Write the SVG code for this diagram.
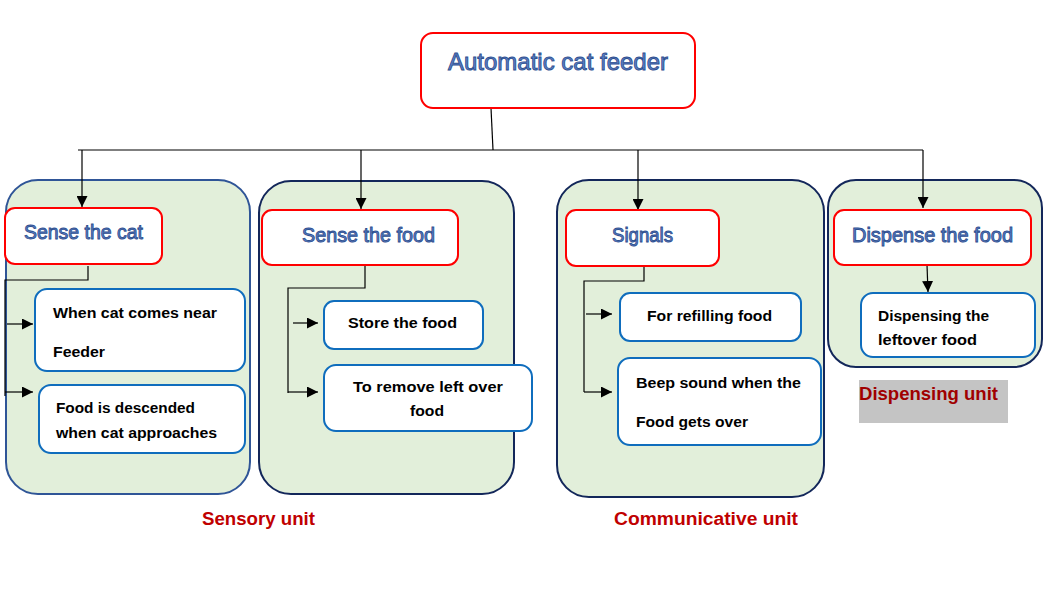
<svg xmlns="http://www.w3.org/2000/svg" width="1050" height="598" viewBox="0 0 1050 598">
<style>
.grp{fill:#E2EFDA;stroke-width:2}
.g1{stroke:#2F5597}
.g2{stroke:#13275A}
.red{fill:#fff;stroke:#FF0000;stroke-width:2}
.blue{fill:#fff;stroke:#0F6DBD;stroke-width:2}
.ttl{font-family:"Liberation Sans",Arial,sans-serif;fill:#5B82C9;stroke:#2F4F8F;stroke-width:0.9}
.txt{font-family:"Liberation Sans",Arial,sans-serif;font-weight:bold;font-size:14.5px;fill:#000}
.unit{font-family:"Liberation Sans",Arial,sans-serif;font-weight:bold;font-size:18px;fill:#C00000}
.ln{stroke:#000;stroke-width:1.2;fill:none}
</style>
<defs>
<marker id="ah" viewBox="0 0 10 10" refX="10" refY="5" markerWidth="11" markerHeight="11" markerUnits="userSpaceOnUse" orient="auto">
<path d="M0,0 L10,5 L0,10 z" fill="#000"/>
</marker>
</defs>
<rect width="1050" height="598" fill="#fff"/>

<g id="group-sensory1"><rect class="grp g1" x="6" y="180" width="244" height="314" rx="32"/></g>
<g id="group-sensory2"><rect class="grp g2" x="259" y="181" width="255" height="313" rx="32"/></g>
<g id="group-comm"><rect class="grp g2" x="557" y="180" width="267" height="317" rx="32"/></g>
<g id="group-disp"><rect class="grp g2" x="828" y="180" width="214" height="187" rx="28"/></g>

<g id="connectors">
<path class="ln" d="M491,108 L493,150"/>
<path class="ln" d="M78,150 L923,150"/>
<path class="ln" d="M82,150 L82,207" marker-end="url(#ah)"/>
<path class="ln" d="M361,150 L361,209" marker-end="url(#ah)"/>
<path class="ln" d="M638,150 L638,210" marker-end="url(#ah)"/>
<path class="ln" d="M923,150 L923,208" marker-end="url(#ah)"/>
<path class="ln" d="M88,266 L88,280 L5,280 L5,396"/>
<path class="ln" d="M7,324 L33,324" marker-end="url(#ah)"/>
<path class="ln" d="M5,392 L33,392" marker-end="url(#ah)"/>
<path class="ln" d="M365,265 L365,288 L288,288 L288,393"/>
<path class="ln" d="M293,323 L318,323" marker-end="url(#ah)"/>
<path class="ln" d="M288,392 L318,392" marker-end="url(#ah)"/>
<path class="ln" d="M644,266 L644,281 L584,281 L584,392"/>
<path class="ln" d="M586,314 L612,314" marker-end="url(#ah)"/>
<path class="ln" d="M584,392 L612,392" marker-end="url(#ah)"/>
<path class="ln" d="M927,265 L928,292" marker-end="url(#ah)"/>
</g>

<g id="node-root">
<rect class="red" x="421" y="33" width="274" height="75" rx="12"/>
<text class="ttl" x="448" y="70" font-size="24" textLength="220" lengthAdjust="spacingAndGlyphs">Automatic cat feeder</text>
</g>

<g id="node-sense-cat">
<rect class="red" x="5" y="208" width="157" height="56" rx="10"/>
<text class="ttl" x="24" y="239" font-size="20" textLength="119" lengthAdjust="spacingAndGlyphs">Sense the cat</text>
</g>
<g id="node-sense-food">
<rect class="red" x="262" y="210" width="196" height="55" rx="10"/>
<text class="ttl" x="302" y="242" font-size="20" textLength="133" lengthAdjust="spacingAndGlyphs">Sense the food</text>
</g>
<g id="node-signals">
<rect class="red" x="566" y="210" width="153" height="56" rx="10"/>
<text class="ttl" x="612" y="242" font-size="20" textLength="61" lengthAdjust="spacingAndGlyphs">Signals</text>
</g>
<g id="node-dispense">
<rect class="red" x="834" y="210" width="197" height="55" rx="10"/>
<text class="ttl" x="852" y="242" font-size="20" textLength="161" lengthAdjust="spacingAndGlyphs">Dispense the food</text>
</g>

<g id="node-cat-near">
<rect class="blue" x="35" y="289" width="210" height="82" rx="12"/>
<text class="txt" x="53" y="318" textLength="164" lengthAdjust="spacingAndGlyphs">When cat comes near</text>
<text class="txt" x="53" y="357" textLength="52" lengthAdjust="spacingAndGlyphs">Feeder</text>
</g>
<g id="node-food-descended">
<rect class="blue" x="39" y="385" width="206" height="68" rx="12"/>
<text class="txt" x="56" y="413" textLength="139" lengthAdjust="spacingAndGlyphs">Food is descended</text>
<text class="txt" x="56" y="438" textLength="161" lengthAdjust="spacingAndGlyphs">when cat approaches</text>
</g>
<g id="node-store">
<rect class="blue" x="324" y="301" width="159" height="48" rx="10"/>
<text class="txt" x="348" y="328" textLength="109" lengthAdjust="spacingAndGlyphs">Store the food</text>
</g>
<g id="node-remove">
<rect class="blue" x="324" y="365" width="208" height="66" rx="12"/>
<text class="txt" x="353" y="392" textLength="150" lengthAdjust="spacingAndGlyphs">To remove left over</text>
<text class="txt" x="410" y="416" textLength="34" lengthAdjust="spacingAndGlyphs">food</text>
</g>
<g id="node-refill">
<rect class="blue" x="620" y="293" width="181" height="48" rx="10"/>
<text class="txt" x="647" y="321" textLength="125" lengthAdjust="spacingAndGlyphs">For refilling food</text>
</g>
<g id="node-beep">
<rect class="blue" x="618" y="358" width="203" height="87" rx="12"/>
<text class="txt" x="636" y="388" textLength="165" lengthAdjust="spacingAndGlyphs">Beep sound when the</text>
<text class="txt" x="636" y="427" textLength="112" lengthAdjust="spacingAndGlyphs">Food gets over</text>
</g>
<g id="node-dispensing">
<rect class="blue" x="861" y="293" width="174" height="64" rx="12"/>
<text class="txt" x="878" y="321" textLength="111" lengthAdjust="spacingAndGlyphs">Dispensing the</text>
<text class="txt" x="878" y="345" textLength="99" lengthAdjust="spacingAndGlyphs">leftover food</text>
</g>

<g id="label-sensory"><text class="unit" x="202" y="525" textLength="113" lengthAdjust="spacingAndGlyphs">Sensory unit</text></g>
<g id="label-comm"><text class="unit" x="614" y="525" textLength="184" lengthAdjust="spacingAndGlyphs">Communicative unit</text></g>
<g id="label-disp">
<rect x="859" y="380" width="149" height="43" fill="#C4C4C4"/>
<text x="859" y="400" font-family="Liberation Sans,Arial,sans-serif" font-weight="bold" font-size="19" fill="#A00000" textLength="139" lengthAdjust="spacingAndGlyphs">Dispensing unit</text>
</g>
</svg>
